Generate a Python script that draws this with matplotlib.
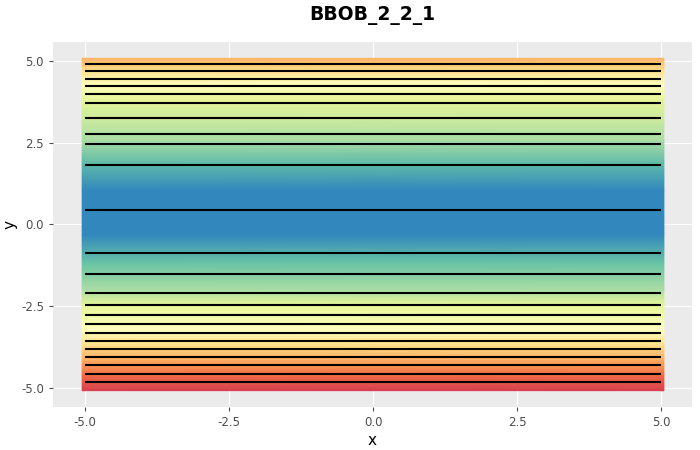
import numpy as np
import matplotlib
matplotlib.use('Agg')
import matplotlib.pyplot as plt
from matplotlib.colors import LinearSegmentedColormap

# contour line heights
contour_y = [4.92, 4.685, 4.45, 4.226, 4.0, 3.706, 3.248, 2.758, 2.453, 1.83, 0.443,
             -0.862, -1.523, -2.086, -2.471, -2.777, -3.043, -3.309, -3.554, -3.798,
             -4.052, -4.306, -4.572, -4.826]

# heatmap colour level along y (0 = blue, 1 = red)
color_y = [-5.08, -4.6, -4.14, -3.68, -3.23, -2.46, -2.0, -1.15, -0.32, 1.05, 1.88,
           2.58, 3.8, 4.27, 4.72, 5.08]
color_level = [1.0, 0.875, 0.75, 0.625, 0.5, 0.375, 0.25, 0.125, 0.0, 0.0, 0.11,
               0.25, 0.375, 0.5, 0.625, 0.74]

x_edges = [-5.05, 5.05]
x_ticks = [-5.0, -2.5, 0.0, 2.5, 5.0]
y_ticks = [-5.0, -2.5, 0.0, 2.5, 5.0]

spectral = ['#3288BD', '#66C2A5', '#ABDDA4', '#E6F598', '#FFFFBF',
            '#FEE08B', '#FDAE61', '#F46D43', '#D53E4F']
cmap = LinearSegmentedColormap.from_list('spec', spectral)

fig = plt.figure(figsize=(7, 4.5), dpi=100)
ax = fig.add_axes([53 / 700, 43 / 450, 639 / 700, 365 / 450])
ax.set_facecolor('#EBEBEB')

X, Y = np.meshgrid(x_edges, color_y)
C = np.column_stack([color_level, color_level])
ax.pcolormesh(X, Y, C, cmap=cmap, vmin=0, vmax=1, shading='gouraud', zorder=2)

ax.hlines(contour_y, -5, 5, colors='black', linewidth=1.5, zorder=3)

ax.set_xlim(-5.556, 5.538)
ax.set_ylim(-5.58, 5.58)
ax.set_xticks(x_ticks)
ax.set_yticks(y_ticks)
ax.set_xticklabels([f'{v:.1f}' for v in x_ticks])
ax.set_yticklabels([f'{v:.1f}' for v in y_ticks])
ax.grid(True, color='white', linewidth=0.8, zorder=1)
ax.set_axisbelow(True)
for s in ax.spines.values():
    s.set_visible(False)
ax.tick_params(colors='#4D4D4D', labelsize=8.5, length=3, width=0.8)

ax.set_xlabel('x', fontsize=11, color='black', va='center')
ax.set_ylabel('y', fontsize=11, color='black', va='center')
ax.xaxis.set_label_coords(0.5, -0.093)
ax.yaxis.set_label_coords(-0.067, 0.5)
fig.text(0.532, 0.965, 'BBOB_2_2_1', ha='center', va='center',
         fontsize=13.5, fontweight='bold')

fig.savefig('out.png', dpi=100)
